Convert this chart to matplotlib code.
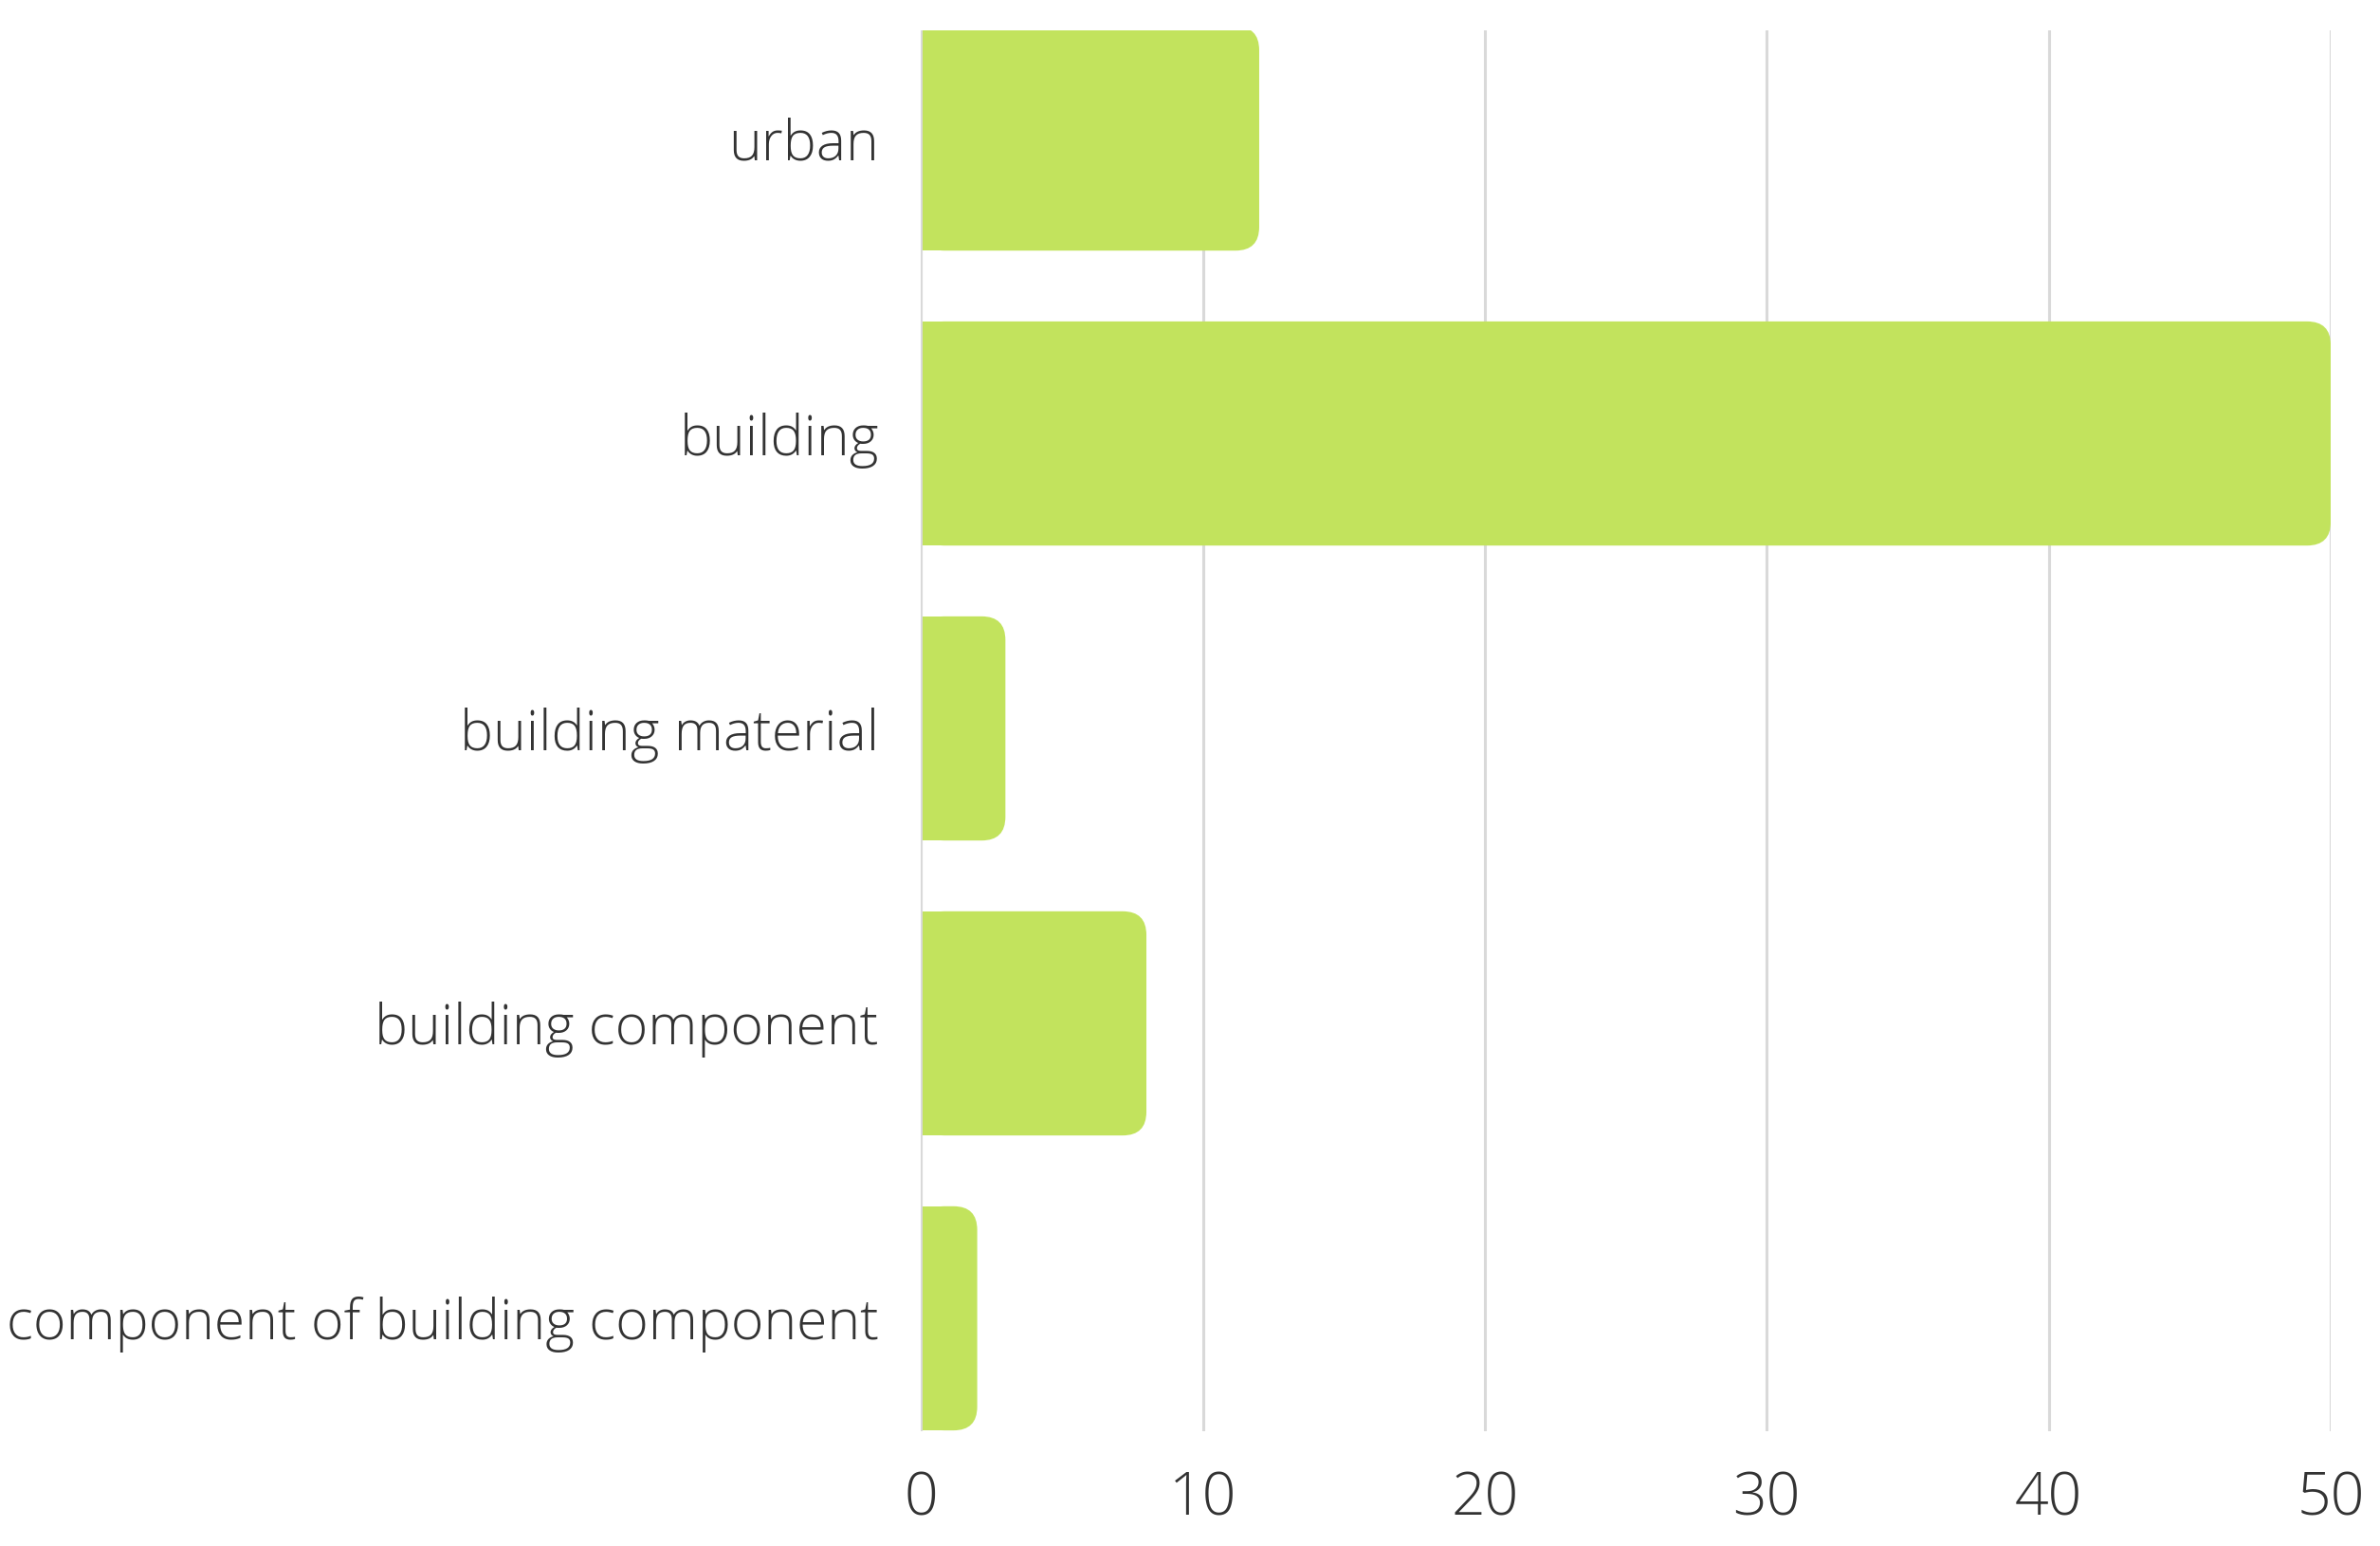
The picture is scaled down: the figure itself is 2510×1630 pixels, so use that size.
import matplotlib
matplotlib.use('Agg')
import matplotlib.pyplot as plt
from matplotlib.patches import FancyBboxPatch

categories = ['urban', 'building', 'building material', 'building component',
              'component of building component']
values = [12, 50, 3, 8, 2]
xticks = [0, 10, 20, 30, 40, 50]

bar_color = '#c2e35d'
grid_color = '#d9d9d9'
text_color = '#333333'

plt.rcParams['font.family'] = ['Open Sans', 'DejaVu Sans']

fig = plt.figure(figsize=(25.1, 16.3), dpi=100)
ax = fig.add_axes([0.3869, 0.0742, 0.5924, 0.9062])

ypos = list(range(len(categories)))
bar_h = 0.76
bars = ax.barh(ypos, values, height=bar_h, color=bar_color, zorder=2)

ax.set_xlim(0, 50)
ax.set_ylim(4.383, -0.367)

# rounded right ends: px per unit in x and y
fig.canvas.draw()
bbox = ax.get_window_extent()
px_x = bbox.width / 50
px_y = bbox.height / (4.383 + 0.367)
radius_px = 25
r = radius_px / px_x
aspect = px_x / px_y
for b in bars:
    x0, y0 = b.get_x(), b.get_y()
    w, h = b.get_width(), b.get_height()
    b.set_width(w - r)
    patch = FancyBboxPatch((x0, y0), w, h,
                           boxstyle=f'round,pad=0,rounding_size={r}',
                           mutation_aspect=aspect, facecolor=bar_color,
                           edgecolor='none', zorder=2)
    ax.add_patch(patch)

ax.set_xticks(xticks)
ax.set_yticks(ypos)
ax.set_yticklabels(categories)
ax.grid(axis='x', color=grid_color, linewidth=2.2, zorder=0)
ax.axvline(0, color=grid_color, linewidth=2.2, zorder=3)
for s in ax.spines.values():
    s.set_visible(False)
ax.tick_params(axis='both', length=0, labelcolor=text_color)
ax.tick_params(axis='y', pad=32, labelsize=42.5)
ax.tick_params(axis='x', pad=29, labelsize=45)
for lab in ax.get_xticklabels() + ax.get_yticklabels():
    lab.set_fontweight('light')

fig.savefig('out.png', dpi=100, facecolor='white')
